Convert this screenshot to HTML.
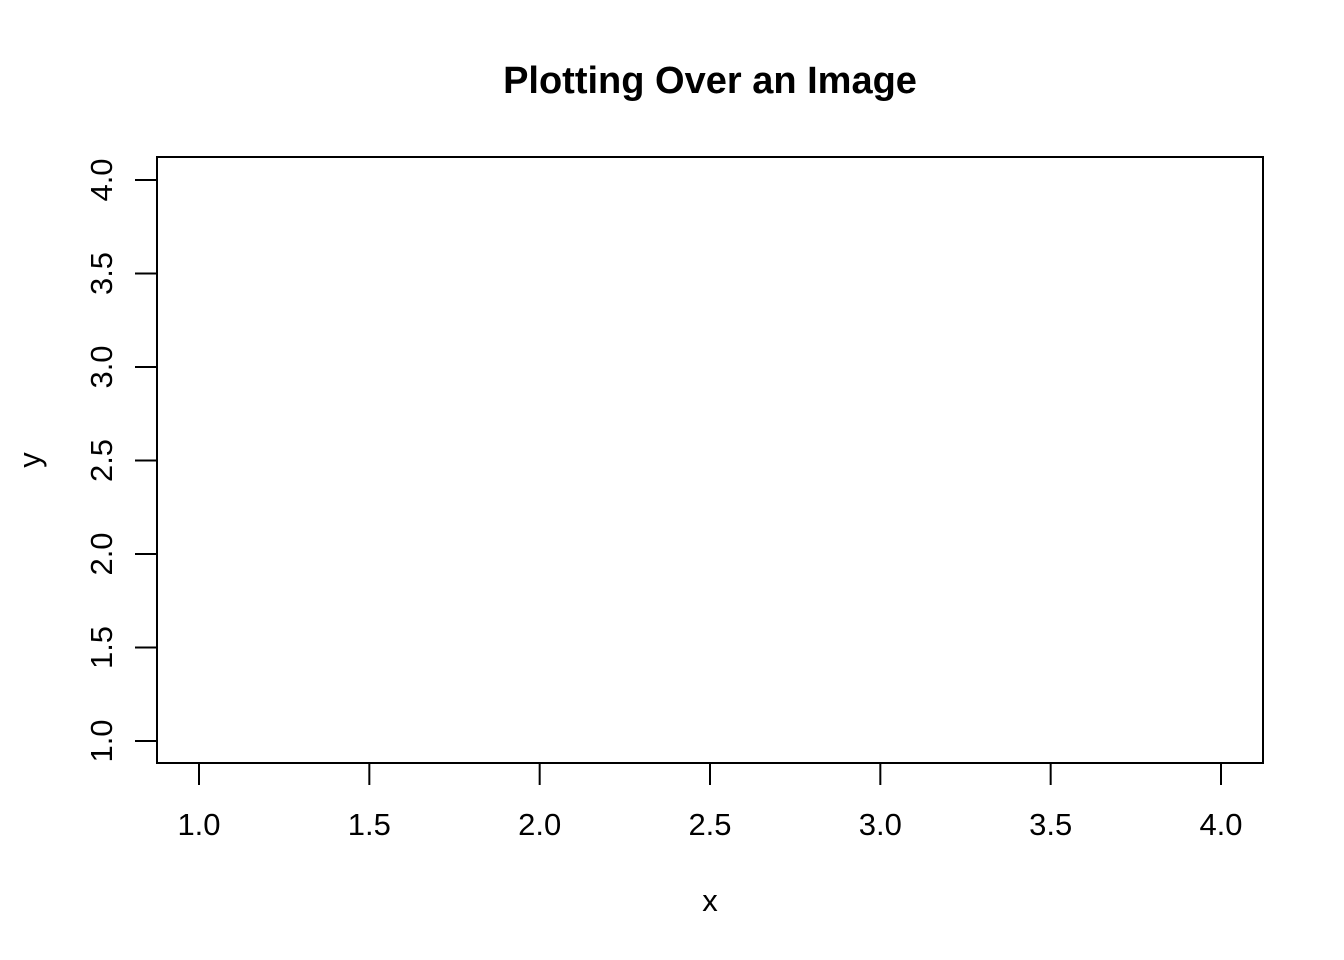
<!DOCTYPE html>
<html><head><meta charset="utf-8"><style>
html,body{margin:0;padding:0;background:#fff;}
svg{display:block;font-family:"Liberation Sans",Arial,sans-serif;}
</style></head><body>
<svg id="chart" width="1344" height="960" viewBox="0 0 1344 960">
<text x="710" y="93" text-anchor="middle" font-size="38" font-weight="bold">Plotting Over an Image</text>
<rect x="157" y="157" width="1106" height="606" fill="none" stroke="#000" stroke-width="2"/>
<g id="xaxis"></g>
<g id="yaxis"></g>
<text x="710" y="911" text-anchor="middle" font-size="31">x</text>
<text transform="translate(40,460) rotate(-90)" text-anchor="middle" font-size="31">y</text>
</svg>
<script>
const xTicks=[1.0,1.5,2.0,2.5,3.0,3.5,4.0];
const yTicks=[1.0,1.5,2.0,2.5,3.0,3.5,4.0];
const xTickLabels=["1.0","1.5","2.0","2.5","3.0","3.5","4.0"];
const yTickLabels=["1.0","1.5","2.0","2.5","3.0","3.5","4.0"];
const NS="http://www.w3.org/2000/svg";
function sx(v){return 199+(v-1)*(1221-199)/3;}
function sy(v){return 741-(v-1)*(741-180)/3;}
const xa=document.getElementById('xaxis'),ya=document.getElementById('yaxis');
function mk(t,a){const e=document.createElementNS(NS,t);for(const k in a)e.setAttribute(k,a[k]);return e;}
let l=mk('line',{x1:sx(xTicks[0]),x2:sx(xTicks[xTicks.length-1]),y1:763,y2:763,stroke:'#000','stroke-width':2});


xa.appendChild(l);
xTicks.forEach((v,i)=>{
 const t=mk('line',{x1:sx(v),x2:sx(v),y1:763,y2:785,stroke:'#000','stroke-width':2});
 
 
 xa.appendChild(t);
 const tx=mk('text',{x:sx(v),y:835,'text-anchor':'middle','font-size':31});
 tx.textContent=xTickLabels[i];
 
 
 xa.appendChild(tx);
});
l=mk('line',{x1:157,x2:157,y1:sy(yTicks[0]),y2:sy(yTicks[yTicks.length-1]),stroke:'#000','stroke-width':2});


ya.appendChild(l);
yTicks.forEach((v,i)=>{
 const t=mk('line',{x1:135,x2:157,y1:sy(v),y2:sy(v),stroke:'#000','stroke-width':2});
 
 
 ya.appendChild(t);
 const tx=mk('text',{transform:`translate(112,${sy(v)}) rotate(-90)`,'text-anchor':'middle','font-size':31});
 tx.textContent=yTickLabels[i];
 
 
 ya.appendChild(tx);
});
</script>
</body></html>
